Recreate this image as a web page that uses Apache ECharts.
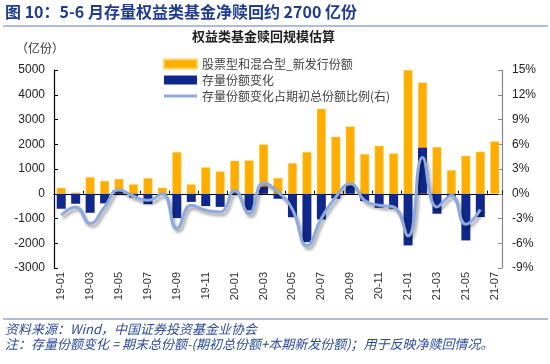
<!DOCTYPE html>
<html>
<head>
<meta charset="utf-8">
<script src="https://cdn.jsdelivr.net/npm/echarts@6/dist/echarts.min.js"></script>
<style>
html,body{margin:0;padding:0;background:#fff;}
#c{width:550px;height:364px;}
</style>
</head>
<body>
<div id="c"></div>
<script>
var categories = ['19-01','19-02','19-03','19-04','19-05','19-06','19-07','19-08','19-09','19-10','19-11','19-12',
  '20-01','20-02','20-03','20-04','20-05','20-06','20-07','20-08','20-09','20-10','20-11','20-12',
  '21-01','21-02','21-03','21-04','21-05','21-06','21-07'];
var newIssue = [242,50,673,520,600,380,630,245,1684,380,1064,902,
  1333,1347,1993,640,1239,1684,3434,2303,2720,1603,1939,1630,
  4997,4498,1886,956,1535,1697,2114];
var stockChange = [-606,-404,-768,-390,95,-150,-420,-20,-983,-330,-500,-530,
  50,-673,280,-200,-950,-1953,-1040,-200,400,-296,-566,-606,
  -2088,1859,-808,-135,-1886,-943,null];
var stockRatio = [-2.6,-1.6,-3.6,-1.6,0.5,-0.3,-0.8,0.0,-4.2,-1.4,-2.0,-2.2,
  0.4,-2.4,1.3,0.2,-1.9,-6.3,-3.0,-0.4,1.2,-0.8,-1.4,-1.6,
  -5.1,4.4,-1.6,-0.2,-3.7,-1.9,null];
var leftTicks = {min:-3000,max:5000,interval:1000};
var rightTicks = {min:-9,max:15,interval:3};
var seriesNames = ['股票型和混合型_新发行份额','存量份额变化','存量份额变化占期初总份额比例(右)'];

var chart = echarts.init(document.getElementById('c'), null, {renderer:'canvas'});
var cjk = '"Noto Sans CJK SC", sans-serif';
var num = '"Liberation Sans", Arial, sans-serif';
var option = {
  animation:false,
  backgroundColor:'#ffffff',
  graphic:[
    {type:'text',left:5,top:4,style:{text:'图 10：5-6 月存量权益类基金净赎回约 2700 亿份',font:'bold 16px '+cjk,fill:'#1f3c8f'}},
    {type:'line',shape:{x1:3,y1:26,x2:548,y2:26},style:{stroke:'#5b7cc0',lineWidth:1.2}},
    {type:'text',left:192,top:30,style:{text:'权益类基金赎回规模估算',font:'bold 13px '+cjk,fill:'#222'}},
    {type:'text',left:16,top:42,style:{text:'（亿份）',font:'12px '+cjk,fill:'#333'}},
    {type:'line',shape:{x1:3,y1:319,x2:548,y2:319},style:{stroke:'#5b7cc0',lineWidth:1.2}},
    {type:'text',left:5,top:323,style:{text:'资料来源：Wind，中国证券投资基金业协会',font:'italic 13px '+cjk,fill:'#2b4b9b'}},
    {type:'text',left:5,top:338,style:{text:'注：存量份额变化 = 期末总份额-(期初总份额+本期新发份额)；用于反映净赎回情况。',font:'italic 13px '+cjk,fill:'#2b4b9b'}}
  ],
  legend:{
    orient:'vertical',left:158,top:53,itemWidth:33,itemHeight:9,itemGap:4,
    textStyle:{fontFamily:cjk,fontSize:12,color:'#404040'},
    data:[{name:seriesNames[0],icon:'rect'},{name:seriesNames[1],icon:'rect'},
          {name:seriesNames[2],icon:'path://M0,0 M0,3 L33,3 L33,6 L0,6 Z M33,9'}]
  },
  grid:{left:54,right:48,top:70,bottom:96,containLabel:false},
  xAxis:[
    {type:'category',data:categories,boundaryGap:true,
     axisLine:{onZero:true,lineStyle:{color:'#000',width:1.2}},
     axisTick:{show:true,inside:true,interval:1,length:3,lineStyle:{color:'#000'}},
     axisLabel:{show:false},splitLine:{show:false}},
    {type:'category',data:categories,boundaryGap:true,position:'bottom',
     axisLine:{show:false,onZero:false},axisTick:{show:false},
     axisLabel:{show:true,interval:1,rotate:90,margin:4,fontFamily:num,fontSize:11,color:'#333'},splitLine:{show:false}}
  ],
  yAxis:[
    {type:'value',min:leftTicks.min,max:leftTicks.max,interval:leftTicks.interval,
     axisLine:{show:true,lineStyle:{color:'#000',width:1.2}},
     axisTick:{show:true,inside:true,length:4,lineStyle:{color:'#000'}},
     axisLabel:{fontFamily:num,fontSize:12,color:'#222',margin:9,formatter:function(v){return String(v);}},splitLine:{show:false}},
    {type:'value',min:rightTicks.min,max:rightTicks.max,interval:rightTicks.interval,position:'right',
     axisLine:{show:true,lineStyle:{color:'#888',width:1.2}},
     axisTick:{show:true,inside:true,length:4,lineStyle:{color:'#888'}},
     axisLabel:{fontFamily:num,fontSize:12,color:'#222',margin:10,formatter:'{value}%'},splitLine:{show:false}}
  ],
  series:[
    {name:seriesNames[0],type:'bar',data:newIssue,barWidth:9,barGap:'-100%',
     itemStyle:{color:'#ffad00',borderColor:'#ffd25a',borderWidth:0.5},z:2},
    {name:seriesNames[1],type:'bar',data:stockChange,barWidth:9,barGap:'-100%',
     itemStyle:{color:'#10288c'},z:3},
    {name:seriesNames[2],type:'line',yAxisIndex:1,data:stockRatio,smooth:0.5,symbol:'none',
     lineStyle:{color:'#8eaadc',width:3,shadowColor:'rgba(0,0,0,0.35)',shadowBlur:3,shadowOffsetX:2,shadowOffsetY:3},
     itemStyle:{color:'#8eaadc'},z:4}
  ]
};
chart.setOption(option);
</script>
</body>
</html>
